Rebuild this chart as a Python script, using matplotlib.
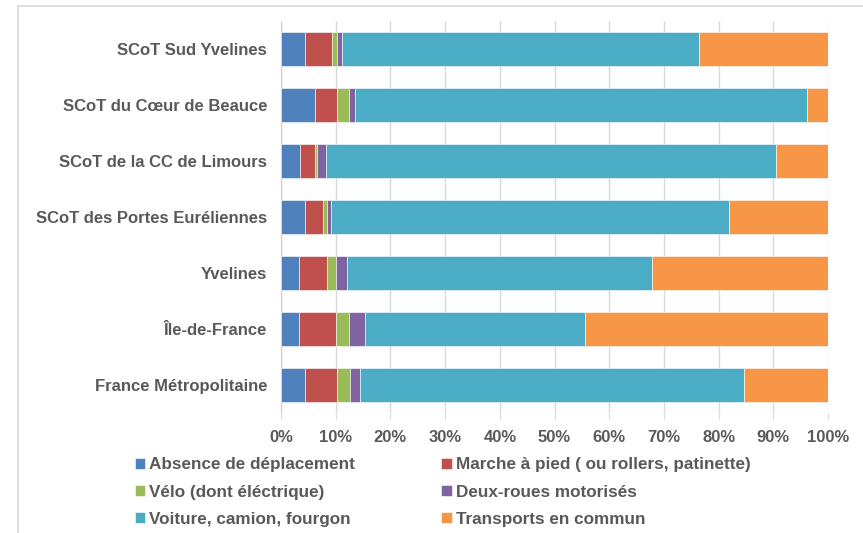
import matplotlib
matplotlib.use("Agg")
import matplotlib.pyplot as plt
from matplotlib.lines import Line2D
import numpy as np

# Mode de transport principal pour aller travailler (parts en %)
territoires = [
    "SCoT Sud Yvelines",
    "SCoT du Cœur de Beauce",
    "SCoT de la CC de Limours",
    "SCoT des Portes Euréliennes",
    "Yvelines",
    "Île-de-France",
    "France Métropolitaine",
]
modes = [
    "Absence de déplacement",
    "Marche à pied ( ou rollers, patinette)",
    "Vélo (dont éléctrique)",
    "Deux-roues motorisés",
    "Voiture, camion, fourgon",
    "Transports en commun",
]
absence = [4.3, 6.3, 3.5, 4.3, 3.2, 3.2, 4.3]
marche = [5.1, 4.0, 2.7, 3.3, 5.3, 6.9, 6.0]
velo = [0.9, 2.1, 0.4, 0.8, 1.5, 2.4, 2.3]
deux_roues = [0.9, 1.2, 1.7, 0.8, 2.1, 2.8, 1.8]
voiture = [65.2, 82.5, 82.2, 72.7, 55.7, 40.3, 70.2]
transports = [23.6, 3.9, 9.5, 18.1, 32.2, 44.4, 15.4]

series = [absence, marche, velo, deux_roues, voiture, transports]
couleurs = ["#4F81BD", "#C0504D", "#9BBB59", "#8064A2", "#4BACC6", "#F79646"]
gris = "#595959"

fig = plt.figure(figsize=(8.63, 5.33), dpi=100)
ax = fig.add_axes([0.3256, 0.225, 0.634, 0.736])

# cadre partiel du graphique (haut et gauche)
fig.add_artist(Line2D([0.021, 1.0], [0.988, 0.988], color="#D9D9D9", lw=1.2))
fig.add_artist(Line2D([0.021, 0.021], [0.0, 0.988], color="#D9D9D9", lw=1.2))

y = np.arange(len(territoires))
left = np.zeros(len(territoires))
barres = []
for vals, col, nom in zip(series, couleurs, modes):
    b = ax.barh(y, vals, left=left, height=0.61, color=col, label=nom,
                edgecolor="white", linewidth=0.4, zorder=3)
    barres.append(b)
    left += np.array(vals)

ax.set_xlim(0, 100)
ax.set_ylim(-0.5, len(territoires) - 0.5)
ax.invert_yaxis()
ax.set_yticks(y)
ax.set_yticklabels(territoires)
ax.set_xticks(np.arange(0, 101, 10))
ax.set_xticklabels([f"{v}%" for v in range(0, 101, 10)])

ax.grid(axis="x", color="#D9D9D9", linewidth=1, zorder=0)
for s in ["top", "right", "bottom"]:
    ax.spines[s].set_visible(False)
ax.spines["left"].set_color("#D0D0D0")
ax.tick_params(axis="y", length=0, pad=10)
ax.tick_params(axis="x", length=4, color="#D9D9D9", pad=8)
for lab in ax.get_yticklabels() + ax.get_xticklabels():
    lab.set_fontfamily("Liberation Sans")
    lab.set_fontweight("bold")
    lab.set_fontsize(12)
    lab.set_color(gris)

ordre = [0, 2, 4, 1, 3, 5]
leg = fig.legend([barres[i] for i in ordre], [modes[i] for i in ordre],
                 ncol=2, loc="upper left", bbox_to_anchor=(0.156, 0.142),
                 frameon=False, handlelength=0.6, handleheight=0.6,
                 handletextpad=0.25, columnspacing=5.05, labelspacing=0.72,
                 borderaxespad=0, borderpad=0,
                 prop={"family": "Liberation Sans", "weight": "bold", "size": 12.3})
for t in leg.get_texts():
    t.set_color(gris)

fig.savefig("out.png", dpi=100)
